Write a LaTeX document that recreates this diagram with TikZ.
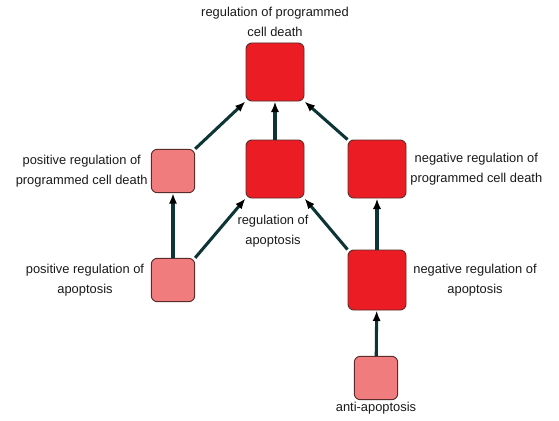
\documentclass[tikz,border=0pt]{standalone}
\usepackage{fontspec}
\setmainfont{Liberation Sans}
\usetikzlibrary{arrows.meta,positioning}
\definecolor{Strong}{HTML}{EC1C24}
\definecolor{Weak}{HTML}{F07C7E}
\definecolor{Rim}{HTML}{5A2C2C}
\definecolor{Stem}{HTML}{0E3535}
\definecolor{Ink}{HTML}{1A1A1A}

\begin{document}
\begin{tikzpicture}[x=0.03cm,y=-0.03cm,font=\fontsize{11}{17}\selectfont,text=Ink,term/.style={draw=Rim,line width=0.8pt,rounded corners=5pt,minimum size=1.74cm,inner sep=0pt,fill=Strong},weak/.style={term,minimum size=1.3cm,fill=Weak},label/.style={align=center,inner sep=1pt},link/.style={-{Latex[length=9pt,width=7pt,color=black]},line width=2.6pt,draw=Stem}]
\useasboundingbox[fill=white] (0,0) rectangle (559,421);
\node[term] (rpcd) at (275,72){};
\node[weak] (prcd) at (173,171){};
\node[term] (ra) at (275,169){};
\node[term] (nrpcd) at (377,169){};
\node[weak] (pra) at (173,280){};
\node[term,minimum height=1.8cm] (nra) at (377,280){};
\node[weak] (anti) at (376,378){};
\node[label] (rpcdtext) at (275,22){regulation of programmed\\cell death};
\node[label,anchor=east] (prcdtext) at (149,171){positive regulation of\\programmed cell death};
\node[label] (ratext) at (273,231){regulation of\\apoptosis};
\node[label,anchor=west] (nrpcdtext) at (409,169){negative regulation of\\programmed cell death};
\node[label] (pratext) at (85,280){positive regulation of\\apoptosis};
\node[label] (nratext) at (475,280){negative regulation of\\apoptosis};
\node[label] (antitext) at (376,408){anti-apoptosis};
\draw[link] (prcd.north east) -- (rpcd.south west);
\draw[link] (ra) -- (rpcd);
\draw[link] (nrpcd.north west) -- (rpcd.south east);
\draw[link] (pra) -- (prcd);
\draw[link] (pra.north east) -- (ra.south west);
\draw[link] (nra.north west) -- (ra.south east);
\draw[link] (nra) -- (nrpcd);
\draw[link] (anti) -- (nra);
\end{tikzpicture}
\end{document}
